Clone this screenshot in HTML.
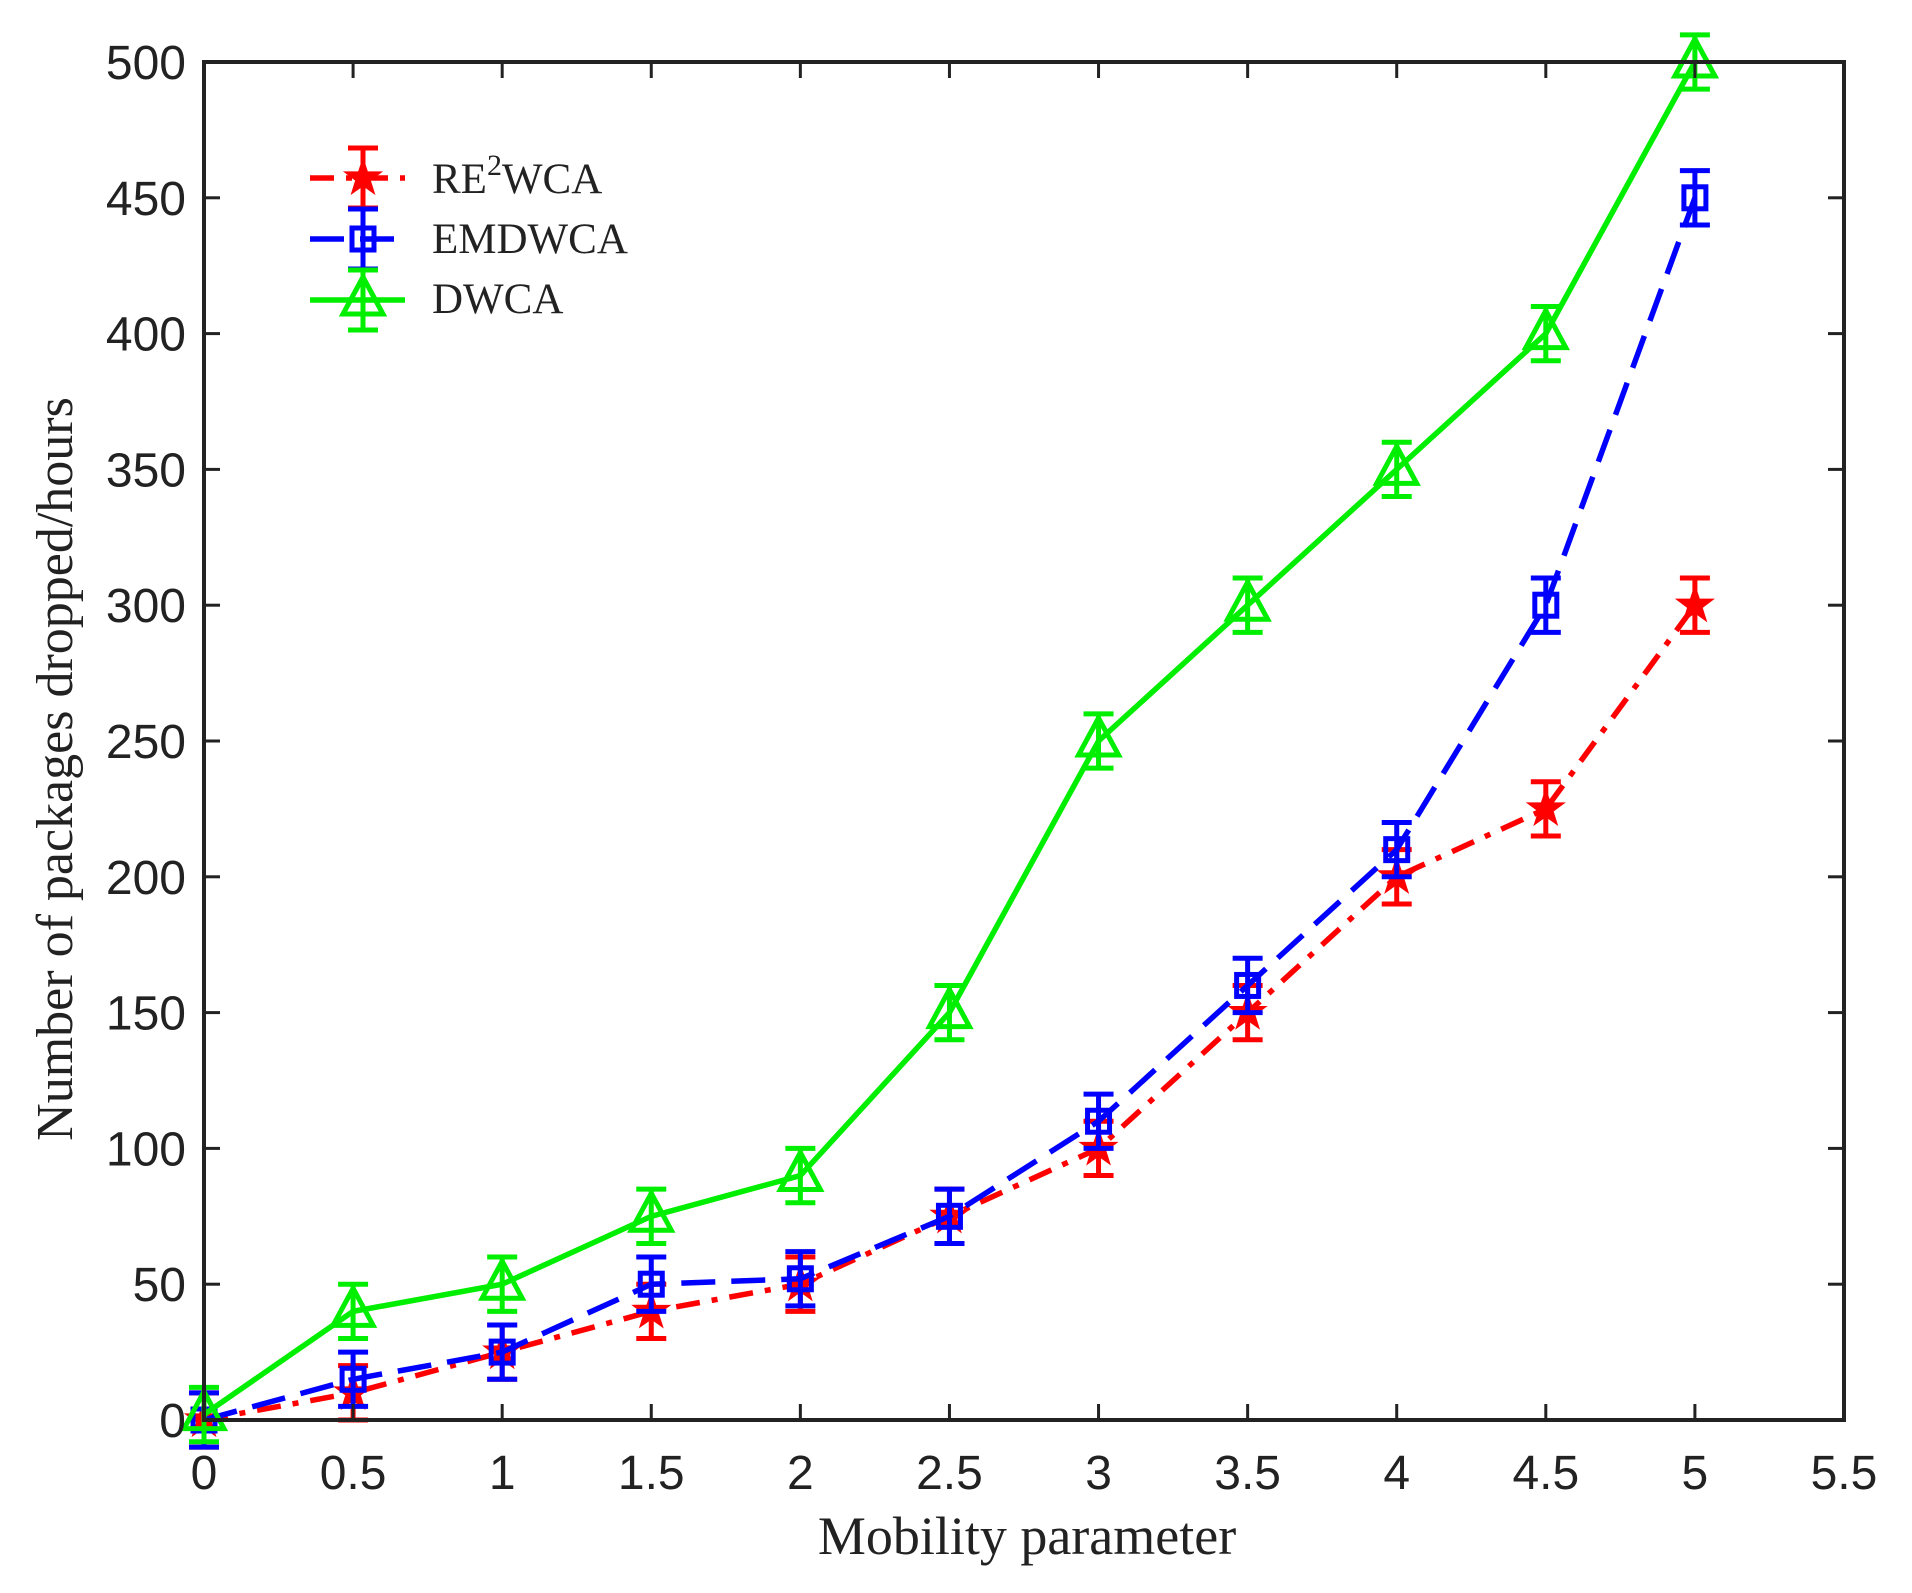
<!DOCTYPE html>
<html><head><meta charset="utf-8"><style>
html,body{margin:0;padding:0;background:#fff;}
svg{display:block;}
</style></head><body>
<svg id="s" width="1912" height="1593" xmlns="http://www.w3.org/2000/svg">
<rect x="0" y="0" width="1912" height="1593" fill="#fff"/>
<g id="plot"></g>
<rect x="204" y="62" width="1640" height="1358" fill="none" stroke="#222" stroke-width="4"/>
<g id="ticks"></g>
<text x="1027" y="1554" font-family="Liberation Serif, serif" font-size="54" text-anchor="middle" fill="#222">Mobility parameter</text>
<text transform="translate(72,769) rotate(-90)" font-family="Liberation Serif, serif" font-size="52" text-anchor="middle" fill="#222">Number of packages dropped/hours</text>
<g id="legend" font-family="Liberation Serif, serif" font-size="43" fill="#222">
<text x="432" y="193">RE<tspan dy="-18" font-size="30">2</tspan><tspan dy="18">WCA</tspan></text>
<text x="432" y="253">EMDWCA</text>
<text x="432" y="313">DWCA</text>
</g>
</svg>
<script>
const NS="http://www.w3.org/2000/svg";
const X=v=>204+298.18*v, Y=v=>1420-2.716*v;
function el(p,t,a){const e=document.createElementNS(NS,t);for(const k in a)e.setAttribute(k,a[k]);p.appendChild(e);return e;}
const plot=document.getElementById('plot'),ticks=document.getElementById('ticks'),leg=document.getElementById('legend');
for(let i=0;i<=11;i++){const v=i*0.5,x=X(v);
 el(ticks,'line',{x1:x,y1:1420,x2:x,y2:1404,stroke:'#222','stroke-width':3});
 el(ticks,'line',{x1:x,y1:62,x2:x,y2:78,stroke:'#222','stroke-width':3});
 const t=el(ticks,'text',{x:x,y:1489,'font-family':'Liberation Sans, sans-serif','font-size':48,'text-anchor':'middle',fill:'#222'});t.textContent=String(v);}
for(let i=0;i<=10;i++){const v=i*50,y=Y(v);
 el(ticks,'line',{x1:204,y1:y,x2:220,y2:y,stroke:'#222','stroke-width':3});
 el(ticks,'line',{x1:1844,y1:y,x2:1828,y2:y,stroke:'#222','stroke-width':3});
 const t=el(ticks,'text',{x:186,y:y+17,'font-family':'Liberation Sans, sans-serif','font-size':48,'text-anchor':'end',fill:'#222'});t.textContent=String(v);}
const xs=[0,0.5,1,1.5,2,2.5,3,3.5,4,4.5,5];
const S=[
 {c:'#ff0000',d:[0,10,25,40,50,75,100,150,200,225,300],dash:'24 12 6 12',m:'star'},
 {c:'#0000ff',d:[0,15,25,50,52,75,110,160,210,300,450],dash:'34 16',m:'sq'},
 {c:'#00ee00',d:[2,40,50,75,90,150,250,300,350,400,500],dash:'',m:'tri'}];
function marker(g,m,x,y,c){
 if(m=='sq') el(g,'rect',{x:x-11,y:y-11,width:22,height:22,fill:'none',stroke:c,'stroke-width':5});
 else if(m=='tri') el(g,'polygon',{points:`${x},${y-23} ${x-20},${y+14} ${x+20},${y+14}`,fill:'none',stroke:c,'stroke-width':5});
 else {let p=[];for(let k=0;k<10;k++){const r=k%2?7:18,a=-Math.PI/2+k*Math.PI/5;p.push((x+r*Math.cos(a)).toFixed(1)+','+(y+r*Math.sin(a)).toFixed(1));}
  el(g,'polygon',{points:p.join(' '),fill:c,stroke:c,'stroke-width':2});}
}
function ebar(g,x,y,c,h){h=h||10*2.716;
 el(g,'line',{x1:x,y1:y-h,x2:x,y2:y+h,stroke:c,'stroke-width':5});
 el(g,'line',{x1:x-15,y1:y-h,x2:x+15,y2:y-h,stroke:c,'stroke-width':5});
 el(g,'line',{x1:x-15,y1:y+h,x2:x+15,y2:y+h,stroke:c,'stroke-width':5});}
S.forEach(s=>{
 const pts=xs.map((v,i)=>X(v)+','+Y(s.d[i])).join(' ');
 const a={points:pts,fill:'none',stroke:s.c,'stroke-width':5.5};if(s.dash)a['stroke-dasharray']=s.dash;
 el(plot,'polyline',a);
 xs.forEach((v,i)=>{ebar(plot,X(v),Y(s.d[i]),s.c);marker(plot,s.m,X(v),Y(s.d[i]),s.c);});
});
[178,239,300].forEach((y,i)=>{const s=S[i];
 const a={x1:310,y1:y,x2:405,y2:y,stroke:s.c,'stroke-width':5.5};if(s.dash)a['stroke-dasharray']=s.dash;
 el(leg,'line',a);ebar(leg,363,y,s.c,30);marker(leg,s.m,363,y,s.c);});
</script>
</body></html>
